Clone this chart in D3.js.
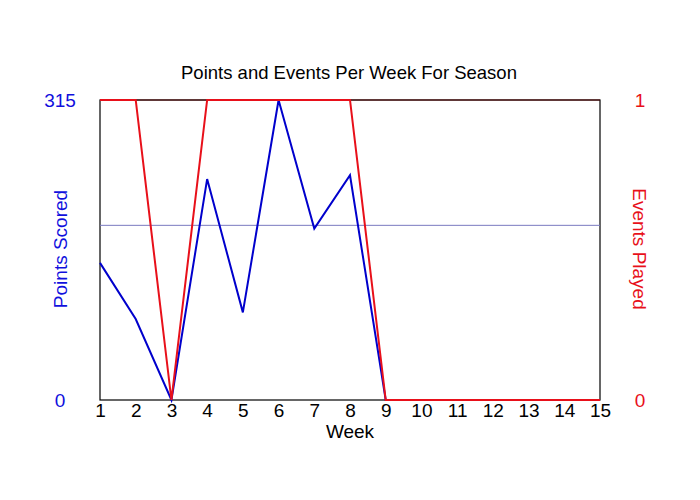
<!DOCTYPE html>
<html>
<head>
<meta charset="utf-8">
<script src="https://cdn.jsdelivr.net/npm/d3@7"></script>
<style>
  body { margin: 0; background: #fff; }
  text { font-family: "Liberation Sans", Arial, sans-serif; }
</style>
</head>
<body>
<svg id="chart" width="700" height="500"></svg>
<script>
// weekly values
const weeks = [1, 2, 3, 4, 5, 6, 7, 8, 9, 10, 11, 12, 13, 14, 15];
const points = [144, 85, 0, 232, 92, 315, 180, 236, 0, 0, 0, 0, 0, 0, 0];
const events = [1, 1, 0, 1, 1, 1, 1, 1, 0, 0, 0, 0, 0, 0, 0];
const avgPoints = 183.4;
const leftTicks = [0, 315];
const rightTicks = [0, 1];

const margin = { top: 100, right: 100, bottom: 100, left: 100 };
const width = 700, height = 500;
const chartWidth = width - margin.left - margin.right;
const chartHeight = height - margin.top - margin.bottom;
const tickFont = 19;

const svg = d3.select('#chart');

const x = d3.scaleLinear().domain([1, 15]).range([0, chartWidth]);
const yLeft = d3.scaleLinear().domain([0, 315]).range([chartHeight, 0]);
const yRight = d3.scaleLinear().domain([0, 1]).range([chartHeight, 0]);

const group = svg.append('g')
  .attr('transform', `translate(${margin.left},${margin.top})`);

// frame
group.append('rect')
  .attr('width', chartWidth)
  .attr('height', chartHeight)
  .attr('fill', 'none')
  .attr('stroke', '#000')
  .attr('stroke-width', 1.2);

group.append('line')
  .attr('x1', 0).attr('x2', chartWidth)
  .attr('y1', 0).attr('y2', 0)
  .attr('stroke', '#5a0a0a')
  .attr('stroke-width', 1.2);

// average line
group.append('line')
  .attr('x1', 0).attr('x2', chartWidth)
  .attr('y1', yLeft(avgPoints)).attr('y2', yLeft(avgPoints))
  .attr('stroke', '#7a7ac0')
  .attr('stroke-width', 1);

const pointsLine = d3.line()
  .x((d, i) => x(weeks[i]))
  .y(d => yLeft(d));

const eventsLine = d3.line()
  .x((d, i) => x(weeks[i]))
  .y(d => yRight(d));

group.append('path')
  .datum(points)
  .attr('d', pointsLine)
  .attr('fill', 'none')
  .attr('stroke', '#0000cc')
  .attr('stroke-width', 2);

group.append('path')
  .datum(events)
  .attr('d', eventsLine)
  .attr('fill', 'none')
  .attr('stroke', '#e8101a')
  .attr('stroke-width', 2);

// x tick labels
const xAxis = d3.axisBottom(x)
  .tickValues(weeks)
  .tickFormat(d3.format('d'))
  .tickSize(0)
  .tickPadding(4);

group.append('g')
  .attr('transform', `translate(0,${chartHeight})`)
  .call(xAxis)
  .call(g => g.select('.domain').remove())
  .selectAll('text')
  .attr('font-size', tickFont)
  .attr('font-family', '"Liberation Sans", Arial, sans-serif')
  .attr('fill', '#000');

// left tick labels
const yAxisLeft = d3.axisLeft(yLeft)
  .tickValues(leftTicks)
  .tickFormat(d3.format('d'))
  .tickSize(0)
  .tickPadding(0);

group.append('g')
  .attr('transform', `translate(-40,0)`)
  .call(yAxisLeft)
  .call(g => g.select('.domain').remove())
  .selectAll('text')
  .attr('text-anchor', 'middle')
  .attr('font-size', tickFont)
  .attr('font-family', '"Liberation Sans", Arial, sans-serif')
  .attr('fill', '#1010dd');

// right tick labels
const yAxisRight = d3.axisRight(yRight)
  .tickValues(rightTicks)
  .tickFormat(d3.format('d'))
  .tickSize(0)
  .tickPadding(0);

group.append('g')
  .attr('transform', `translate(${chartWidth + 40},0)`)
  .call(yAxisRight)
  .call(g => g.select('.domain').remove())
  .selectAll('text')
  .attr('text-anchor', 'middle')
  .attr('font-size', tickFont)
  .attr('font-family', '"Liberation Sans", Arial, sans-serif')
  .attr('fill', '#e8101a');

// titles
svg.append('text')
  .attr('x', 349)
  .attr('y', 79)
  .attr('text-anchor', 'middle')
  .attr('font-size', 18.5)
  .attr('fill', '#000')
  .text('Points and Events Per Week For Season');

svg.append('text')
  .attr('x', 350)
  .attr('y', 438)
  .attr('text-anchor', 'middle')
  .attr('font-size', 19)
  .attr('fill', '#000')
  .text('Week');

svg.append('text')
  .attr('transform', 'translate(67,249) rotate(-90)')
  .attr('text-anchor', 'middle')
  .attr('font-size', 19)
  .attr('fill', '#1010dd')
  .text('Points Scored');

svg.append('text')
  .attr('transform', 'translate(633,249) rotate(90)')
  .attr('text-anchor', 'middle')
  .attr('font-size', 19)
  .attr('fill', '#e8101a')
  .text('Events Played');
</script>
</body>
</html>
